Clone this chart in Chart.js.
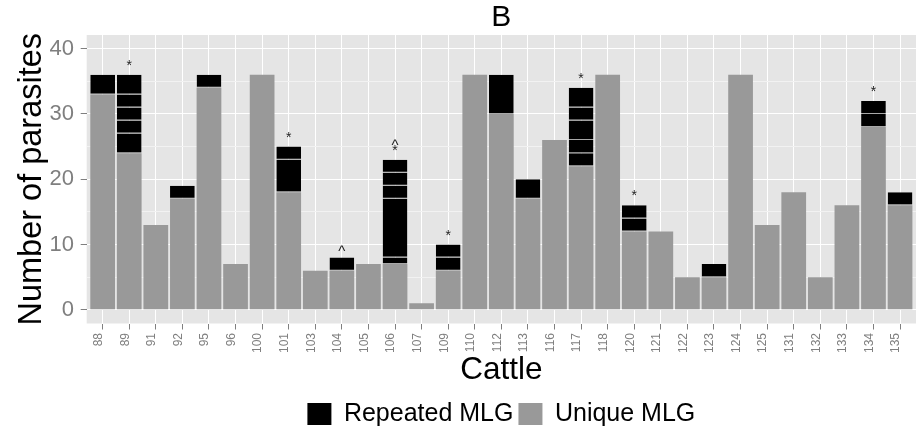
<!DOCTYPE html>
<html>
<head>
<meta charset="utf-8">
<script src="https://cdn.jsdelivr.net/npm/chart.js@4/dist/chart.umd.min.js"></script>
<style>
  html, body { margin: 0; padding: 0; background: #ffffff; }
  #wrap { width: 918px; height: 430px; }
</style>
</head>
<body>
<div id="wrap"><canvas id="c" width="918" height="430"></canvas></div>
<script>
// ---- data ----
const cattle = ['88','89','91','92','95','96','100','101','103','104','105','106','107','109','110','112','113','116','117','118','120','121','122','123','124','125','131','132','133','134','135'];
const uniqueMLG = [33,24,13,17,34,7,36,18,6,6,7,7,1,6,36,30,17,26,22,36,12,12,5,5,36,13,18,5,16,28,16];
// repeated-MLG segments for each cattle, listed bottom -> top
const repeatedMLG = [[3],[3,2,2,2,3],[],[2],[2],[],[],[5,2],[],[2],[],[1,9,2,2,2],[],[2,2],[],[6],[3],[],[2,2,3,2,3],[],[2,2],[],[],[2],[],[],[],[],[],[2,2],[2]];
const markers = ['','*','','','','','','*','','^','','^*','','*','','','','','*','','*','','','','','','','','','*',''];
const yTicks = [0,10,20,30,40];

const FONT = "'Liberation Sans', Arial, Helvetica, sans-serif";
const GREY = '#999999';
const BLACK = '#000000';

const datasets = [{
  label: 'Unique MLG',
  data: uniqueMLG.map((v, i) => ({x: i, y: v})),
  backgroundColor: GREY,
  borderWidth: 0
}];
const nLayers = Math.max(...repeatedMLG.map(s => s.length));
for (let k = 0; k < nLayers; k++) {
  datasets.push({
    label: 'Repeated MLG',
    data: repeatedMLG.map((s, i) => ({x: i, y: s[k] === undefined ? null : s[k]})),
    backgroundColor: BLACK,
    borderColor: '#a8a8a8',
    borderWidth: {top: 0, left: 0, right: 0, bottom: 1},
    borderSkipped: false
  });
}

const panelBg = {
  id: 'panelBg',
  beforeDraw(chart) {
    const {ctx, chartArea: a} = chart;
    ctx.save();
    ctx.fillStyle = '#e5e5e5';
    ctx.fillRect(a.left, a.top, a.right - a.left, a.bottom - a.top);
    ctx.restore();
  }
};

const markerPlugin = {
  id: 'markers',
  afterDatasetsDraw(chart) {
    const {ctx} = chart;
    const xs = chart.scales.x, ys = chart.scales.y;
    ctx.save();
    ctx.fillStyle = '#222222';
    ctx.textAlign = 'center';
    ctx.textBaseline = 'alphabetic';
    markers.forEach((m, i) => {
      if (!m) return;
      const total = uniqueMLG[i] + repeatedMLG[i].reduce((a, b) => a + b, 0);
      const x = xs.getPixelForValue(i);
      const top = ys.getPixelForValue(total);
      const hasStar = m.indexOf('*') >= 0;
      const hasCaret = m.indexOf('^') >= 0;
      if (hasStar) {
        ctx.font = '14px ' + FONT;
        ctx.fillText('*', x, top - 5);
      }
      if (hasCaret) {
        ctx.font = '15px ' + FONT;
        ctx.fillText('^', x, hasStar ? top - 10 : top - 2);
      }
    });
    ctx.restore();
  }
};

new Chart(document.getElementById('c'), {
  type: 'bar',
  data: { datasets },
  options: {
    responsive: false,
    devicePixelRatio: 1,
    animation: false,
    barPercentage: 0.93,
    categoryPercentage: 1,
    layout: { padding: { top: 0, right: 2, bottom: -6.5, left: 0 } },
    plugins: {
      tooltip: { enabled: false },
      title: {
        display: true,
        text: 'B',
        color: '#000',
        fullSize: false,
        font: { family: FONT, size: 30, weight: 'normal', lineHeight: 1.1 },
        padding: { top: 1, bottom: 1 }
      },
      legend: {
        display: true,
        position: 'bottom',
        fullSize: false,
        onClick: () => {},
        labels: {
          color: '#000',
          font: { family: FONT, size: 25 },
          boxWidth: 24,
          boxHeight: 22,
          padding: 5,
          generateLabels: () => [
            { text: 'Repeated MLG', fillStyle: BLACK, strokeStyle: BLACK, lineWidth: 0, hidden: false, datasetIndex: 1 },
            { text: 'Unique MLG', fillStyle: GREY, strokeStyle: GREY, lineWidth: 0, hidden: false, datasetIndex: 0 }
          ]
        }
      }
    },
    scales: {
      x: {
        type: 'linear',
        min: -0.6,
        max: 30.6,
        stacked: true,
        offset: false,
        border: { display: false },
        grid: { offset: false, color: '#ffffff', lineWidth: 1, tickLength: 6, tickColor: '#7f7f7f', drawTicks: true },
        ticks: {
          stepSize: 1,
          includeBounds: false,
          autoSkip: false,
          minRotation: 90,
          maxRotation: 90,
          padding: 3.5,
          labelOffset: -4,
          color: '#7f7f7f',
          font: { family: FONT, size: 12 },
          callback: (v) => Number.isInteger(v) && cattle[v] !== undefined ? cattle[v] : ''
        },
        title: {
          display: true,
          text: 'Cattle',
          color: '#000',
          font: { family: FONT, size: 31.5 },
          padding: { top: 0, bottom: 7 }
        },
        afterFit: (s) => { s.height = 73; }
      },
      y: {
        type: 'linear',
        min: -2.1,
        max: 42.1,
        stacked: true,
        border: { display: false },
        grid: {
          lineWidth: 1,
          tickLength: 6,
          color: (c) => (c.tick && yTicks.includes(c.tick.value)) ? '#ffffff' : '#f2f2f2',
          tickColor: (c) => (c.tick && yTicks.includes(c.tick.value)) ? '#7f7f7f' : 'rgba(0,0,0,0)'
        },
        ticks: {
          stepSize: 5,
          includeBounds: false,
          padding: 6.7,
          color: '#7f7f7f',
          font: { family: FONT, size: 22 },
          callback: (v) => yTicks.includes(v) ? String(v) : ''
        },
        title: {
          display: true,
          text: 'Number of parasites',
          color: '#000',
          font: { family: FONT, size: 32.5 },
          padding: { top: 12.5, bottom: 0 }
        },
        afterFit: (s) => { s.width = 86.7; }
      }
    }
  },
  plugins: [panelBg, markerPlugin]
});
</script>
</body>
</html>
